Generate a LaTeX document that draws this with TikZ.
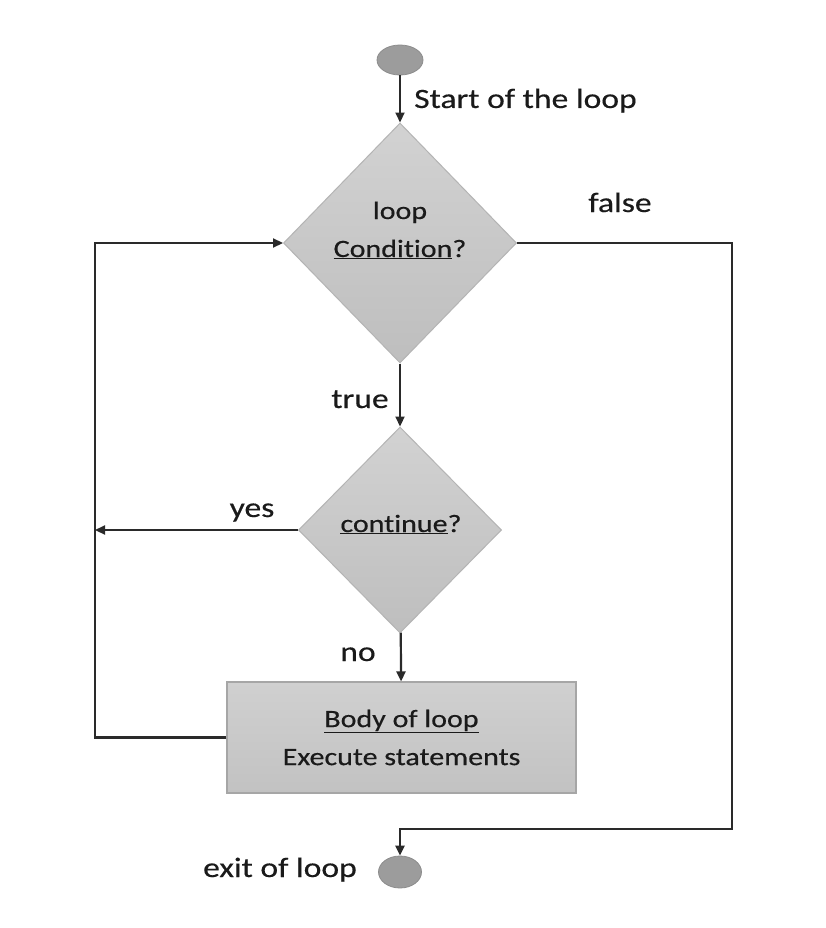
\documentclass[tikz,border=0pt]{standalone}
\usepackage{fontspec}
\setmainfont{Carlito}[FakeStretch=1.2, Ligatures=NoCommon, FakeBold=0.4]
\usetikzlibrary{shapes.geometric,arrows.meta}
\definecolor{lineclr}{HTML}{2A2A2A}
\definecolor{txt}{HTML}{1A1A1A}
\definecolor{diatop}{HTML}{D2D2D2}
\definecolor{diabot}{HTML}{BEBEBE}
\definecolor{diaedge}{HTML}{B4B4B4}
\definecolor{boxtop}{HTML}{D0D0D0}
\definecolor{boxbot}{HTML}{C2C2C2}
\definecolor{boxedge}{HTML}{A6A6A6}
\definecolor{termclr}{HTML}{9C9C9C}
\definecolor{termedge}{HTML}{8C8C8C}
\begin{document}
\begin{tikzpicture}[x=1pt,y=-1pt,
  conn/.style={draw=lineclr, line width=2.2pt},
  arr/.style={conn, -{Triangle[length=10pt,width=9pt]}},
  dia/.style={diamond, draw=diaedge, line width=1pt, top color=diatop, bottom color=diabot, inner sep=0pt},
  term/.style={ellipse, fill=termclr, draw=termedge, line width=0.8pt, inner sep=0pt},
  lbl/.style={font=\fontsize{28}{34}\selectfont, text=txt, inner sep=0pt},
  intxt/.style={font=\fontsize{25}{30}\selectfont, text=txt, inner sep=0pt},
  bodybox/.style={rectangle, draw=boxedge, line width=1.2pt, top color=boxtop, bottom color=boxbot, align=center, text=txt, font=\fontsize{25}{38}\selectfont, inner sep=0pt}
]
\useasboundingbox (0,0) rectangle (826,928);
\fill[white] (0,0) rectangle (826,928);

% nodes
\node[term, minimum width=46pt, minimum height=30pt] (start) at (400,60) {};
\node[dia, minimum width=233pt, minimum height=240pt] (d1) at (400,243) {};
\node[dia, minimum width=203pt, minimum height=206pt] (d2) at (400,530) {};
\node[bodybox, minimum width=349pt, minimum height=111pt] (body) at (401.5,737.5) {\underline{Body of loop}\\Execute statements};
\node[term, minimum width=43pt, minimum height=32pt] (exit) at (400,872) {};

% texts
\node[intxt, anchor=base] (t1a) at (400,219) {loop};
\node[intxt, anchor=base] (t1b) at (400,257) {\underline{Condition}?};
\node[intxt, anchor=base] (t2) at (401,532) {\underline{continue}?};
\node[lbl, anchor=base west] (lstart) at (414,108) {Start of the loop};
\node[lbl, anchor=base] (lfalse) at (620,212) {false};
\node[lbl, anchor=base] (ltrue) at (360,408) {true};
\node[lbl, anchor=base] (lyes) at (252,517) {yes};
\node[lbl, anchor=base] (lno) at (358,661) {no};
\node[lbl, anchor=base] (lexit) at (280,877) {exit of loop};

% corner coordinates
\coordinate (fr) at (732,243);
\coordinate (br) at (732,829);
\coordinate (bl) at (400,829);
\coordinate (ym) at (95,530);
\coordinate (lb) at (95,737.5);
\coordinate (lt) at (95,243);

% connectors
\draw[arr] (start) -- (d1);
\draw[arr] (d1) -- (d2);
\draw[arr] (d2) -- (body);
\draw[arr] (d2.west) -- (ym);
\draw[arr] (body.west) -- (lb) -- (lt) -- (d1.west);
\draw[arr] (d1.east) -- (fr) -- (br) -- (bl) -- (exit.north);
\end{tikzpicture}
\end{document}
